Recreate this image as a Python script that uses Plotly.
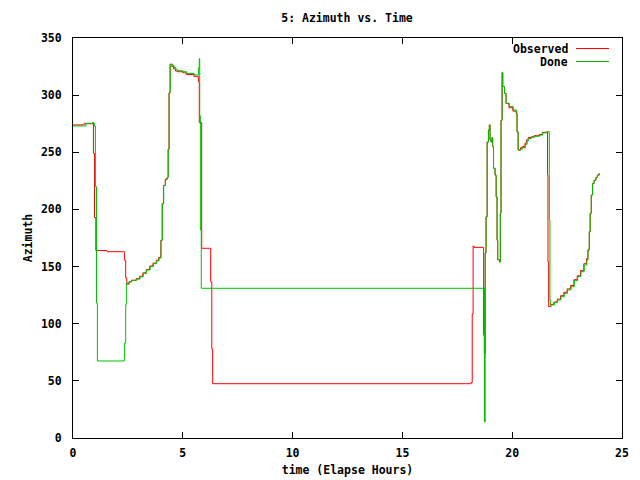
import plotly.graph_objects as go

# Dome (green) step points: elapsed hours, azimuth
dome_t = [0, 0.59, 0.98, 1.02, 1.07, 1.11, 2.34, 2.40, 2.43, 2.55, 2.68, 2.90, 3.05, 3.20, 3.35,
          3.51, 3.66, 3.81, 3.92, 4.01, 4.07, 4.13, 4.21, 4.30, 4.34, 4.38, 4.43, 4.54, 4.60,
          4.69, 4.80, 5.02, 5.18, 5.52, 5.71, 5.75, 5.77, 5.80, 5.84, 18.74, 18.77, 18.81,
          18.86, 18.92, 18.96, 18.99, 19.04, 19.08, 19.11, 19.15, 19.22, 19.27, 19.31, 19.34,
          19.42, 19.46, 19.49, 19.54, 19.57, 19.65, 19.72, 19.87, 20.05, 20.20, 20.22, 20.27,
          20.40, 20.48, 20.60, 20.68, 20.75, 20.88, 21.01, 21.24, 21.39, 21.61, 21.69, 21.72,
          21.74, 21.92, 22.07, 22.22, 22.37, 22.52, 22.68, 22.83, 22.98, 23.13, 23.28, 23.40,
          23.45, 23.51, 23.55, 23.60, 23.66, 23.73, 23.81, 23.88, 23.96]
dome_az = [273, 275.4, 273, 220, 118, 67.4, 83, 116.7, 135.5, 137, 138, 139, 141, 144, 147,
           150, 152.5, 155, 157.5, 173, 205, 221, 226.6, 228, 252.6, 302, 327, 326, 324,
           322, 321.4, 320.5, 319, 317.6, 324, 332, 282, 182, 131, 14, 162, 193.6,
           259, 269.5, 274, 260.7, 259, 263, 255, 236, 230, 211, 173, 156,
           154, 196.6, 278, 319.7, 307.5, 301.6, 292.8, 290, 287, 284.7, 268, 252,
           253, 254, 257, 260, 262, 263, 264, 265, 267, 268, 190.7, 120.75,
           116.4, 118.4, 120.75, 123.6, 126.6, 129.5, 132.4, 137.7, 141.2, 145.5, 151.4, 155.75,
           164.5, 180.5, 196.6, 212.6, 222.8, 225.5, 228, 230, 231.6]

# Observed (red) step points
obs_t = [0, 0.50, 0.90, 0.93, 0.98, 1.04, 1.55, 2.34, 2.40, 2.45, 2.55, 2.66, 2.88, 3.03, 3.18,
         3.33, 3.49, 3.64, 3.79, 3.90, 4.00, 4.06, 4.12, 4.20, 4.28, 4.33, 4.37, 4.42, 4.50,
         4.58, 4.67, 4.78, 5.00, 5.16, 5.50, 5.71, 5.75, 5.86, 6.27, 6.32, 6.36, 18.13, 18.18,
         18.22, 18.26, 18.70, 18.73, 18.77, 18.81, 18.86, 18.92, 18.96, 18.99, 19.04, 19.08,
         19.11, 19.15, 19.22, 19.27, 19.31, 19.34, 19.42, 19.46, 19.49, 19.54, 19.57, 19.65,
         19.72, 19.85, 20.03, 20.18, 20.22, 20.27, 20.38, 20.46, 20.58, 20.66, 20.73, 20.86,
         20.99, 21.22, 21.37, 21.58, 21.61, 21.63, 21.66, 21.76, 21.90, 22.05, 22.20, 22.35,
         22.50, 22.66, 22.81, 22.96, 23.11, 23.26, 23.38, 23.45, 23.51, 23.55, 23.60, 23.66,
         23.73, 23.81, 23.88, 23.96]
obs_az = [274, 275, 276, 249, 193, 164, 163, 155.6, 140, 134.6, 136.5, 138, 139.5, 141.5, 144.5,
          147.5, 150.5, 153, 155.5, 158, 173, 205, 221, 226, 228, 252.6, 302, 327, 325,
          323, 321, 320.5, 319.5, 318, 316.5, 311.8, 276, 166, 136.8, 77.9, 47.5, 48.5, 108.5,
          168, 166.8, 90, 74, 162, 193.6, 259, 269.5, 274, 260.7, 259, 263,
          255, 236, 230, 211, 173, 156, 154, 196.6, 278, 319.7, 307.5, 301.6,
          292.8, 289, 286, 284, 268, 252, 254, 255, 258, 261, 263, 263.5,
          264.5, 265.5, 267.5, 268, 230, 154, 115, 117, 119, 121.5, 124.5, 127.5,
          130.5, 133.5, 138.5, 142, 146.5, 152.5, 157, 164.5, 180.5, 196.6, 212.6, 222.8,
          225.5, 228, 230, 231.6]

x_ticks = [0, 5, 10, 15, 20, 25]
y_ticks = [0, 50, 100, 150, 200, 250, 300, 350]

RED = "#ff0000"
GREEN = "#00c000"
FONT = dict(family="DejaVu Sans Mono", size=11.5, color="black", weight="bold")

L, R, T, B = 73, 18, 38, 42
PW, PH = 640 - L - R, 480 - T - B

fig = go.Figure()
fig.add_trace(go.Scatter(x=obs_t, y=obs_az, mode="lines", line_shape="hv",
                         line=dict(color=RED, width=1), name="Observed", showlegend=False))
fig.add_trace(go.Scatter(x=dome_t, y=dome_az, mode="lines", line_shape="hv",
                         line=dict(color=GREEN, width=1), name="Done", showlegend=False))

axis_common = dict(showline=True, linecolor="black", linewidth=1, mirror="allticks",
                   ticks="inside", ticklen=6, tickcolor="black", showgrid=False,
                   zeroline=False, tickfont=FONT, automargin=False)

fig.update_xaxes(range=[0, 25], tickvals=x_ticks, ticktext=[str(v) for v in x_ticks],
                 ticklabelstandoff=4,
                 title=dict(text="time (Elapse Hours)", font=FONT, standoff=7), **axis_common)
fig.update_yaxes(range=[0, 350], tickvals=y_ticks, ticktext=[str(v) for v in y_ticks],
                 ticklabelstandoff=8,
                 title=dict(text="Azimuth", font=FONT, standoff=5), **axis_common)

# gnuplot-style legend: text right-aligned, line sample on the right
legend_items = [("Observed", RED, 48.5), ("Done", GREEN, 61.5)]
for label, col, ypx in legend_items:
    yp = 1 - (ypx - T) / PH
    fig.add_annotation(xref="paper", yref="paper", x=(569 - L) / PW, y=yp,
                       text=label, showarrow=False, xanchor="right", yanchor="middle",
                       font=FONT, height=11, borderpad=0, valign="middle")
    fig.add_shape(type="line", xref="paper", yref="paper",
                  x0=(576 - L) / PW, x1=(609 - L) / PW, y0=yp, y1=yp,
                  line=dict(color=col, width=1))

fig.update_layout(
    width=640, height=480,
    margin=dict(l=L, r=R, t=T, b=B),
    paper_bgcolor="white", plot_bgcolor="white",
    title=dict(text="5: Azimuth vs. Time", font=FONT, x=347 / 640, xanchor="center",
               yref="container", y=1 - 18 / 480, yanchor="middle"),
)

fig.write_html("out.html")
